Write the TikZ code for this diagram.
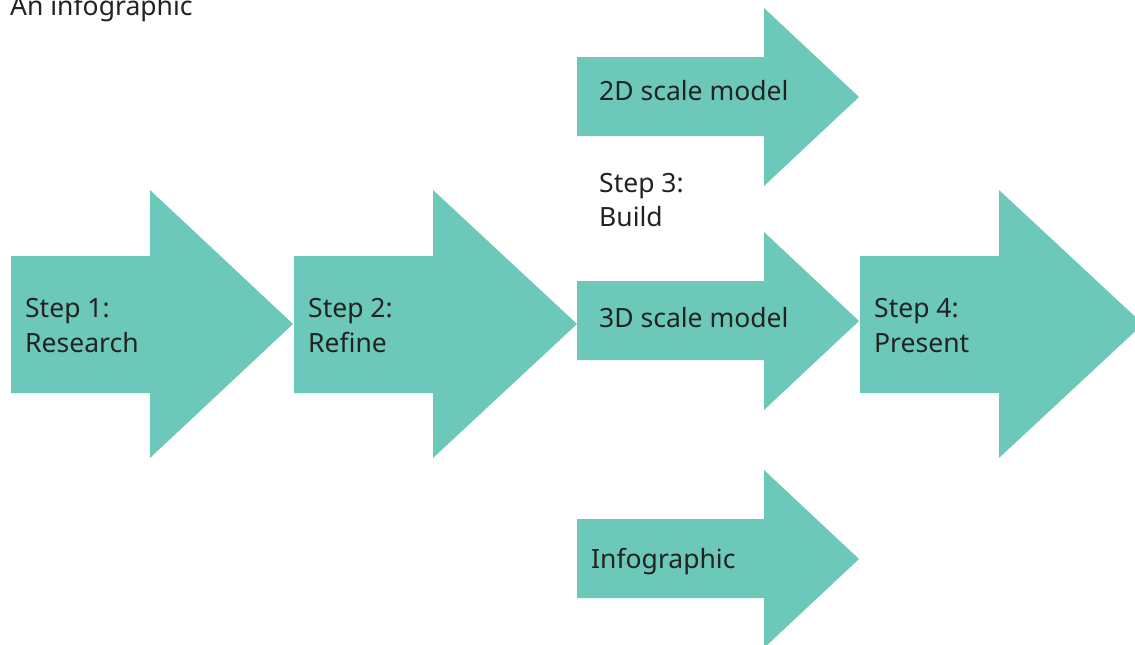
\documentclass[tikz,border=0pt]{standalone}
\usepackage{fontspec}
\setmainfont{Noto Sans}
\definecolor{teal}{HTML}{6CC8B8}
\definecolor{ink}{HTML}{222222}
\begin{document}
\begin{tikzpicture}[x=1pt,y=-1pt,
  arr/.style={fill=teal,draw=none},
  lbl/.style={anchor=base west,inner sep=0pt,text=ink,font=\fontsize{26.5}{35}\selectfont}]
\useasboundingbox (0,0) rectangle (1135,645);
\clip (0,0) rectangle (1135,645);
% big arrows
\fill[arr] (11,256) -- (150,256) -- (150,190) -- (293,324) -- (150,458) -- (150,393) -- (11,393) -- cycle;
\fill[arr] (294,256) -- (433,256) -- (433,190) -- (577,324) -- (433,458) -- (433,393) -- (294,393) -- cycle;
\fill[arr] (860,256) -- (999,256) -- (999,190) -- (1143,324) -- (999,458) -- (999,393) -- (860,393) -- cycle;
% small arrows
\fill[arr] (577,57) -- (764,57) -- (764,8) -- (859,97) -- (764,186) -- (764,136) -- (577,136) -- cycle;
\fill[arr] (577,281) -- (764,281) -- (764,232) -- (859,321) -- (764,410) -- (764,360) -- (577,360) -- cycle;
\fill[arr] (577,519) -- (764,519) -- (764,470) -- (859,559) -- (764,648) -- (764,598) -- (577,598) -- cycle;
% labels
\node[lbl] (title) at (10,15) {An infographic};
\node[lbl] (s1a) at (25,317) {Step 1:};
\node[lbl] (s1b) at (25,352) {Research};
\node[lbl] (s2a) at (308,317) {Step 2:};
\node[lbl] (s2b) at (308,352) {Refine};
\node[lbl] (m2d) at (599,100) {2D scale model};
\node[lbl] (s3a) at (599,192) {Step 3:};
\node[lbl] (s3b) at (599,226) {Build};
\node[lbl] (m3d) at (599,327) {3D scale model};
\node[lbl] (info) at (591,568) {Infographic};
\node[lbl] (s4a) at (874,317) {Step 4:};
\node[lbl] (s4b) at (874,352) {Present};
\end{tikzpicture}
\end{document}
